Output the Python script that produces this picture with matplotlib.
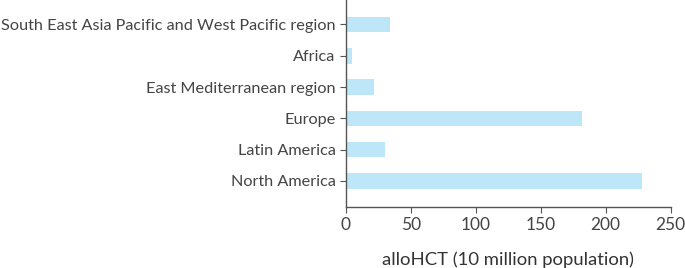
import matplotlib.pyplot as plt
import matplotlib

matplotlib.rc("font", family="Lato")

regions = ['North America', 'Latin America', 'Europe', 'East Mediterranean region',
           'Africa', 'South East Asia Pacific and West Pacific region']
allohct = [228, 30, 182, 22, 5, 34]
xticks = [0, 50, 100, 150, 200, 250]

fig = plt.figure(figsize=(6.85, 2.68), dpi=100)
ax = fig.add_axes([0.505, 0.229, 0.474, 0.771])

ax.barh(range(len(regions)), allohct, height=0.5, color='#bde6f8')
ax.set_yticks(range(len(regions)))
ax.set_yticklabels(regions)
ax.set_xticks(xticks)
ax.set_xlim(0, 250)
ax.set_ylim(-0.82, 5.78)
ax.set_xlabel('alloHCT (10 million population)', fontsize=13.3, color='#333333', labelpad=13)

for s in ['top', 'right']:
    ax.spines[s].set_visible(False)
for s in ['left', 'bottom']:
    ax.spines[s].set_color('#555555')
    ax.spines[s].set_linewidth(1)
ax.tick_params(colors='#555555', labelcolor='#444444', labelsize=11.7, length=4)
ax.tick_params(axis='x', labelsize=12.5)

plt.savefig('out.png', dpi=100)
